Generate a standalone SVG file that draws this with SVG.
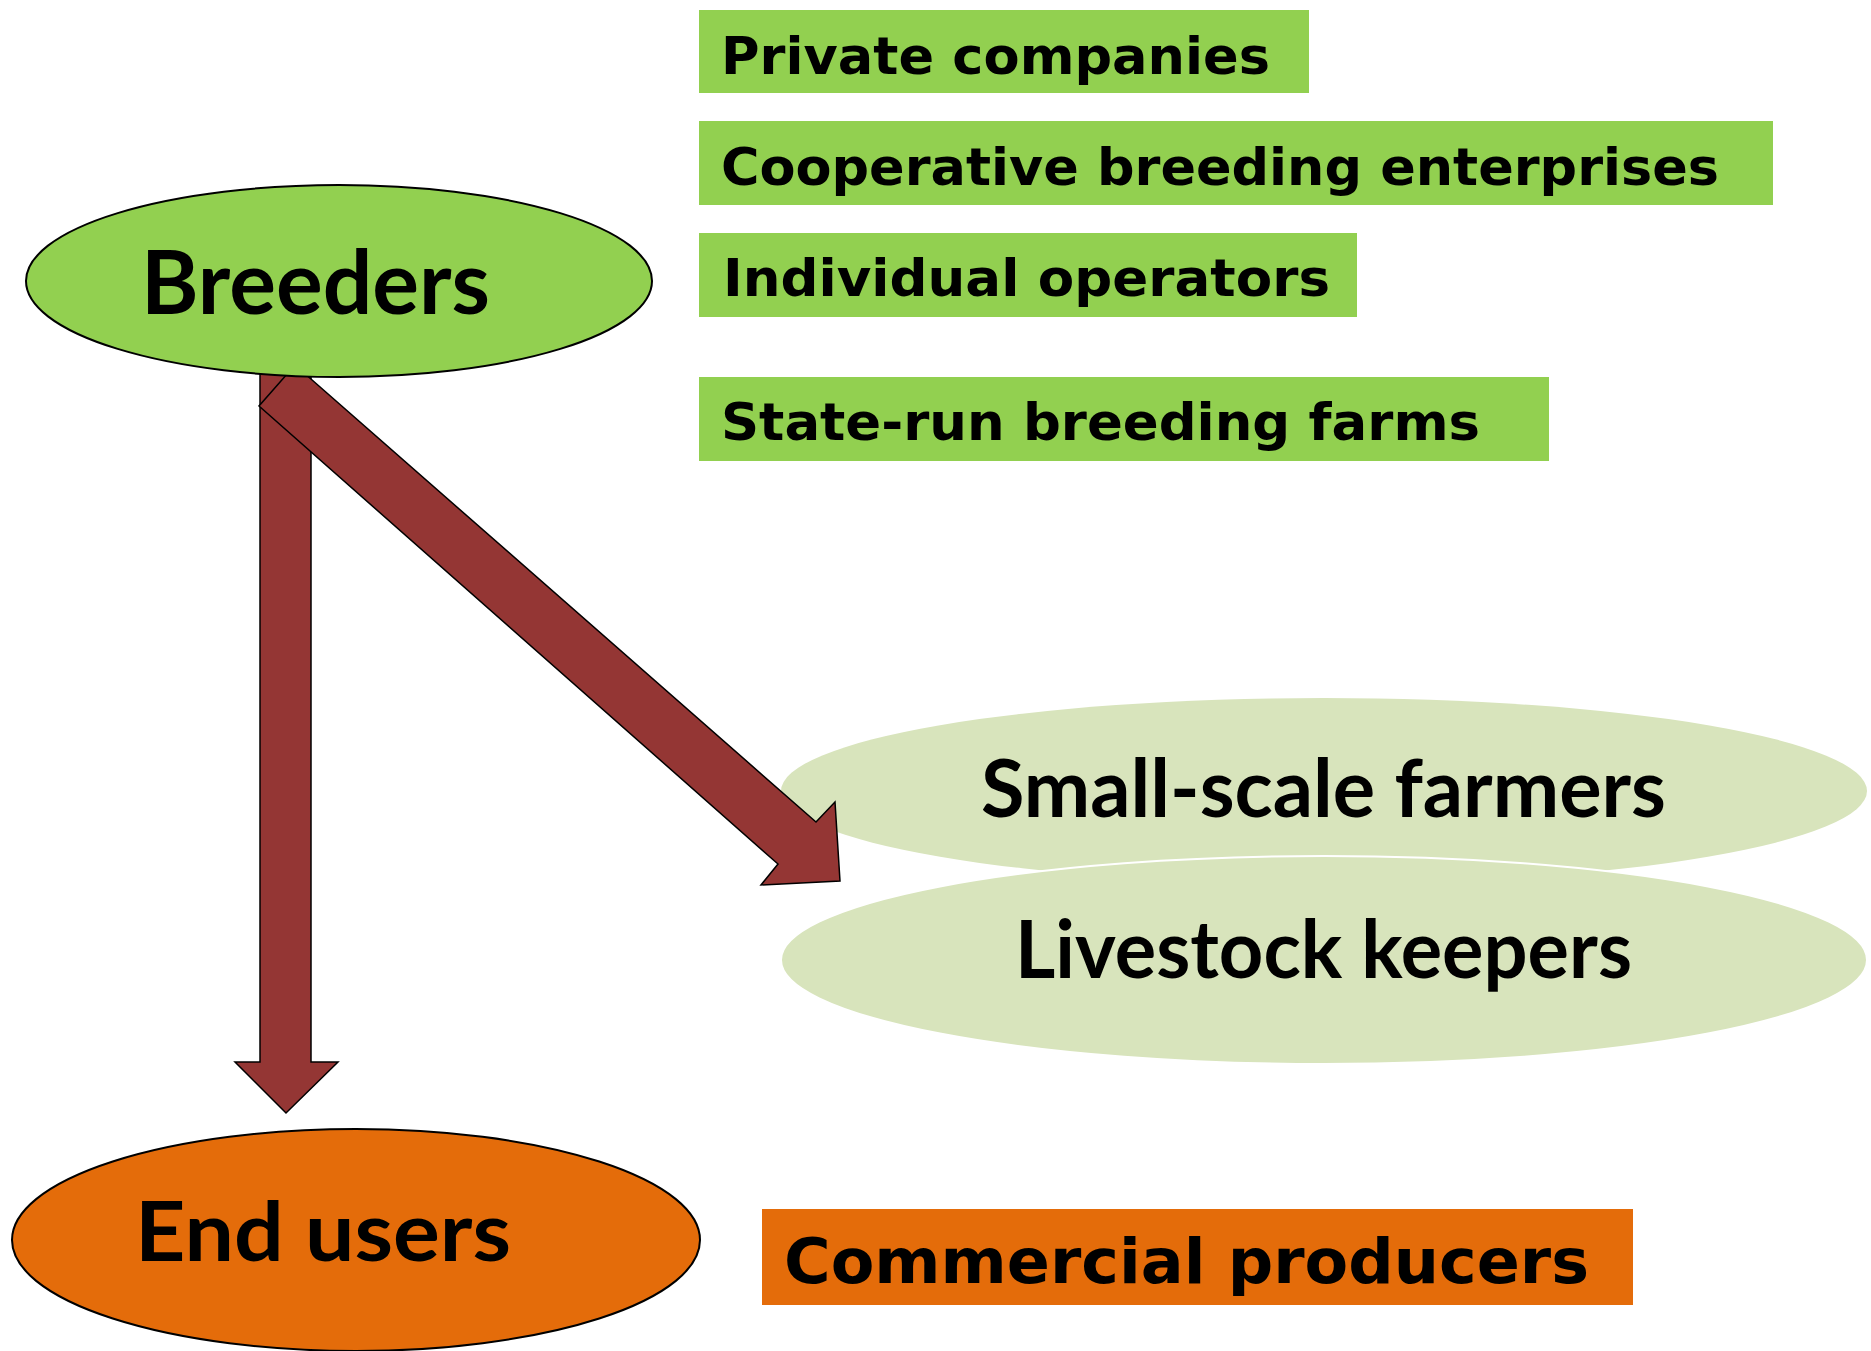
<svg xmlns="http://www.w3.org/2000/svg" width="1871" height="1351" viewBox="0 0 1871 1351">
<style>
.lbl{font-family:"DejaVu Sans","Liberation Sans",sans-serif;font-weight:bold;fill:#000}
.big{font-family:Lato,"Open Sans","Liberation Sans",sans-serif;font-weight:bold;fill:#000}
.box{fill:#92D050}
.arrow{fill:#943634;stroke:#000;stroke-width:1.5;stroke-linejoin:miter}
</style>
<rect width="1871" height="1351" fill="#fff"/>
<g id="private">
<rect class="box" x="699" y="10" width="610" height="83"/>
<text class="lbl" x="721" y="74" font-size="52" textLength="549" lengthAdjust="spacingAndGlyphs">Private companies</text>
</g>
<g id="cooperative">
<rect class="box" x="699" y="121" width="1074" height="84"/>
<text class="lbl" x="721" y="185" font-size="52" textLength="998" lengthAdjust="spacingAndGlyphs">Cooperative breeding enterprises</text>
</g>
<g id="individual">
<rect class="box" x="699" y="233" width="658" height="84"/>
<text class="lbl" x="723" y="296" font-size="52" textLength="607" lengthAdjust="spacingAndGlyphs">Individual operators</text>
</g>
<g id="state">
<rect class="box" x="699" y="377" width="850" height="84"/>
<text class="lbl" x="721" y="440" font-size="52" textLength="759" lengthAdjust="spacingAndGlyphs">State-run breeding farms</text>
</g>
<g id="smallscale">
<ellipse cx="1324" cy="791" rx="543" ry="93" fill="#D8E4BC"/>
<text class="big" x="981" y="817" font-size="80" textLength="685" lengthAdjust="spacingAndGlyphs">Small-scale farmers</text>
</g>
<g id="livestock">
<ellipse cx="1324" cy="960" rx="543" ry="104" fill="#D8E4BC" stroke="#fff" stroke-width="2"/>
<text class="big" x="1015" y="978" font-size="80" textLength="617" lengthAdjust="spacingAndGlyphs">Livestock keepers</text>
</g>
<g id="endusers">
<ellipse cx="356" cy="1240" rx="344" ry="111" fill="#E46C0A" stroke="#000" stroke-width="2"/>
<text class="big" x="135" y="1261" font-size="83" textLength="376" lengthAdjust="spacingAndGlyphs">End users</text>
</g>
<g id="commercial">
<rect x="762" y="1209" width="871" height="96" fill="#E46C0A"/>
<text class="lbl" x="784" y="1283" font-size="63" textLength="805" lengthAdjust="spacingAndGlyphs">Commercial producers</text>
</g>
<g id="connectors">
<polygon class="arrow" points="260,372 311,372 311,1062 338,1062 286,1113 235,1062 260,1062"/>
<polygon class="arrow" points="295,365 816,822 835,802 840,881 761,885 778,864 259,406"/>
</g>
<g id="breeders">
<ellipse cx="339" cy="281" rx="313" ry="96" fill="#92D050" stroke="#000" stroke-width="2"/>
<text class="big" x="141" y="314" font-size="88" textLength="349" lengthAdjust="spacingAndGlyphs">Breeders</text>
</g>
</svg>
